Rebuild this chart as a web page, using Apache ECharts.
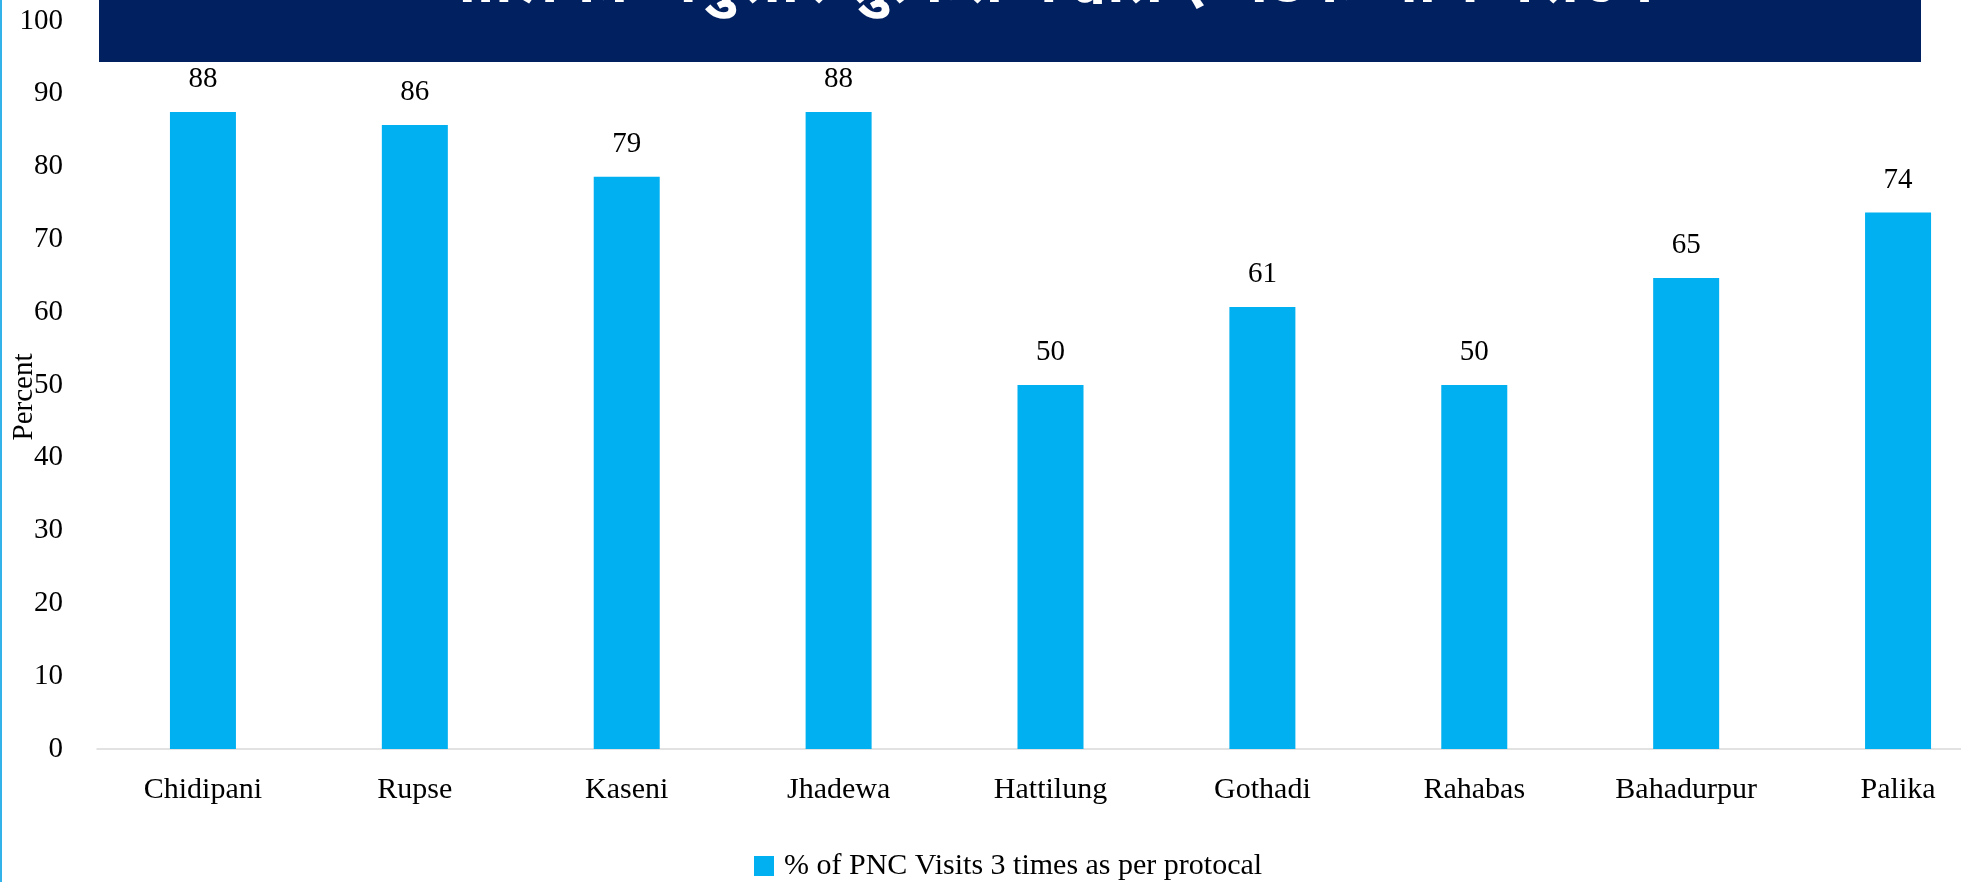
<!DOCTYPE html>
<html>
<head>
<meta charset="utf-8">
<style>
html,body{margin:0;padding:0;background:#fff;}
#chart{width:1961px;height:882px;}
</style>
<script src="https://cdn.jsdelivr.net/npm/echarts@6/dist/echarts.min.js"></script>
</head>
<body>
<div id="chart"></div>
<script>
const categories = ['Chidipani','Rupse','Kaseni','Jhadewa','Hattilung','Gothadi','Rahabas','Bahadurpur','Palika'];
const pncValues = [87.5, 85.7, 78.6, 87.5, 50, 60.7, 50, 64.7, 73.7];
const seriesName = '% of PNC Visits 3 times as per protocal';
const titleText = 'पालिका अनुसार सुत्केरी पश्चात ३ पटक जाँच गराउने';
const yAxisName = 'Percent';
const yMin = 0, yMax = 100, yStep = 10;

const chart = echarts.init(document.getElementById('chart'), null, {renderer:'canvas'});
const font = '"Liberation Serif","Times New Roman",serif';
chart.setOption({
  animation:false,
  backgroundColor:'#ffffff',
  textStyle:{fontFamily:font},
  graphic:[
    {type:'rect', shape:{x:0,y:0,width:2,height:882}, style:{fill:'#34b3ea'}, z:10},
    {type:'rect', shape:{x:99,y:0,width:1822,height:62}, style:{fill:'#012060'}, z:1},
    {type:'text', x:1046, y:-41, z:2, style:{text:titleText, fill:'#ffffff', fontSize:62, fontWeight:'bold', textAlign:'center', textVerticalAlign:'top', fontFamily:'"Noto Sans Devanagari","Noto Sans","Lohit Devanagari",sans-serif'}},
    {type:'text', x:24, y:397, rotation:Math.PI/2, z:5, style:{text:yAxisName, fill:'#000', fontSize:29, fontFamily:font, textAlign:'center', textVerticalAlign:'middle'}}
  ],
  legend:{
    left:749, top:846, itemWidth:20, itemHeight:20, icon:'rect',
    textStyle:{fontSize:30, color:'#000', fontFamily:font, padding:[0,0,0,5]},
    data:[seriesName]
  },
  grid:{left:97, top:21, width:1907, height:728, containLabel:false, outerBoundsMode:'none'},
  xAxis:{
    type:'category', data:categories,
    axisLine:{show:true, lineStyle:{color:'#d9d9d9', width:1.5}},
    axisTick:{show:false},
    axisLabel:{color:'#000', fontSize:30, margin:26, fontFamily:font, interval:0}
  },
  yAxis:{
    type:'value', min:yMin, max:yMax, interval:yStep,
    splitLine:{show:false}, axisLine:{show:false}, axisTick:{show:false},
    axisLabel:{color:'#000', fontSize:29, margin:34, fontFamily:font}
  },
  series:[{
    name:seriesName, type:'bar', data:pncValues, barWidth:66,
    itemStyle:{color:'#00b0f0'},
    label:{show:true, position:'top', distance:18, color:'#000', fontSize:29, fontFamily:font,
      formatter:p=>Math.round(p.value)}
  }]
});
</script>
</body>
</html>
